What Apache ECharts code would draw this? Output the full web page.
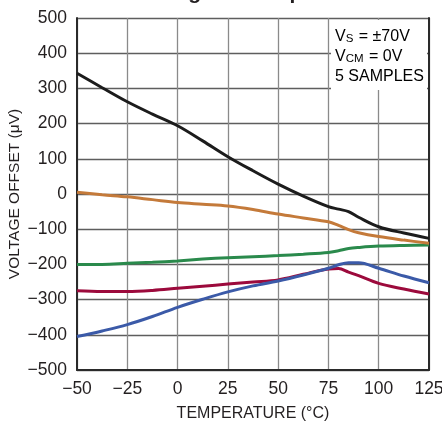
<!DOCTYPE html>
<html>
<head>
<meta charset="utf-8">
<script src="https://cdn.jsdelivr.net/npm/echarts@6/dist/echarts.min.js"></script>
<style>html,body{margin:0;padding:0;background:#fff}#c{width:442px;height:423px}</style>
</head>
<body>
<div id="c"></div>
<script>
const temps = [-50, -37.5, -25, -12.5, 0, 12.5, 25, 37.5, 50, 62.5, 75, 80, 85, 90, 100, 112.5, 125];
const sample1 = [343, 302, 262, 227, 194, 151, 106, 66, 28, -6, -36, -43, -50, -66, -93, -111, -126];
const sample2 = [5, -2, -8, -16, -24, -29, -34, -44, -57, -68, -79, -89, -101, -110, -121, -131, -140];
const sample3 = [-200, -200, -197, -194, -190, -185, -181, -178, -175, -171, -166, -161, -155, -152, -148, -146, -145];
const sample4 = [-275, -277, -277, -274, -268, -262, -256, -250, -244, -228, -213, -212, -222, -232, -254, -270, -284];
const sample5 = [-405, -389, -371, -348, -322, -299, -278, -261, -247, -230, -211, -201, -195, -195, -211, -233, -252];
const xTicks = [-50, -25, 0, 25, 50, 75, 100, 125];
const yTicks = [-500, -400, -300, -200, -100, 0, 100, 200, 300, 400, 500];
const colors = ['#1c1c1c', '#c47a3a', '#2a8a4c', '#9c0a3c', '#3b5aa8'];
const noteLines = ['{n|V}{s|S}{n| = ±70V}', '{n|V}{s|CM}{n| = 0V}', '{n|5 SAMPLES}'];

const FONT = '"Liberation Sans", Arial, sans-serif';
const fmt = v => String(v).replace('-', '\u2212');
const pairs = arr => temps.map((t, i) => [t, arr[i]]);

const chart = echarts.init(document.getElementById('c'), null, {renderer: 'canvas'});
chart.setOption({
  animation: false,
  backgroundColor: '#fff',
  title: {
    text: 'Offset Voltage vs Temperature',
    left: 72, top: -17, padding: 0,
    textStyle: {fontFamily: FONT, fontSize: 21, fontWeight: 'bold', color: '#231f20'}
  },
  grid: {left: 77, right: 13, top: 18, bottom: 53, containLabel: false, outerBoundsMode: 'none'},
  xAxis: {
    type: 'value', min: xTicks[0], max: xTicks[xTicks.length - 1], interval: 25,
    name: 'TEMPERATURE (°C)', nameLocation: 'middle', nameGap: 36, nameMoveOverlap: false,
    nameTextStyle: {fontFamily: FONT, fontSize: 16, color: '#231f20'},
    axisLine: {show: true, onZero: false, lineStyle: {color: '#2a2a2a', width: 2}},
    axisTick: {show: false},
    axisLabel: {formatter: fmt, margin: 10, fontFamily: FONT, fontSize: 17.5, color: '#231f20'},
    splitLine: {show: true, lineStyle: {color: '#8a8a8a', width: 1.3}}
  },
  yAxis: [{
    type: 'value', min: yTicks[0], max: yTicks[yTicks.length - 1], interval: 100,
    name: 'VOLTAGE OFFSET (μV)', nameLocation: 'middle', nameGap: 54, nameRotate: 90, nameMoveOverlap: false,
    nameTextStyle: {fontFamily: FONT, fontSize: 15.5, color: '#231f20'},
    axisLine: {show: true, onZero: false, lineStyle: {color: '#2a2a2a', width: 2}},
    axisTick: {show: false},
    axisLabel: {formatter: fmt, margin: 10, fontFamily: FONT, fontSize: 17.5, color: '#231f20'},
    splitLine: {show: true, lineStyle: {color: '#5e5e5e', width: 1.3}}
  }, {
    type: 'value', position: 'right', min: yTicks[0], max: yTicks[yTicks.length - 1], interval: 100,
    axisLine: {show: true, onZero: false, lineStyle: {color: '#2a2a2a', width: 2}},
    axisTick: {show: false}, axisLabel: {show: false}, splitLine: {show: false}
  }],
  series: [sample4, sample5, sample3, sample2, sample1].map((arr, k) => ({
    type: 'line', data: pairs(arr), smooth: 0.35, showSymbol: false,
    lineStyle: {width: 3, color: colors[[3, 4, 2, 1, 0][k]]}
  })),
  graphic: [{
    type: 'rect', left: 331, top: 20, shape: {width: 96, height: 70}, style: {fill: '#fff'}, z: 10
  }, {
    type: 'text', left: 335, top: 29, z: 11,
    style: {
      text: noteLines.join('\n'),
      rich: {
        n: {fontFamily: FONT, fontSize: 16, color: '#231f20', lineHeight: 20, verticalAlign: 'bottom'},
        s: {fontFamily: FONT, fontSize: 11.5, color: '#231f20', lineHeight: 17, verticalAlign: 'bottom', padding: [0, 1, 0, 0]}
      }
    }
  }]
});
</script>
</body>
</html>
